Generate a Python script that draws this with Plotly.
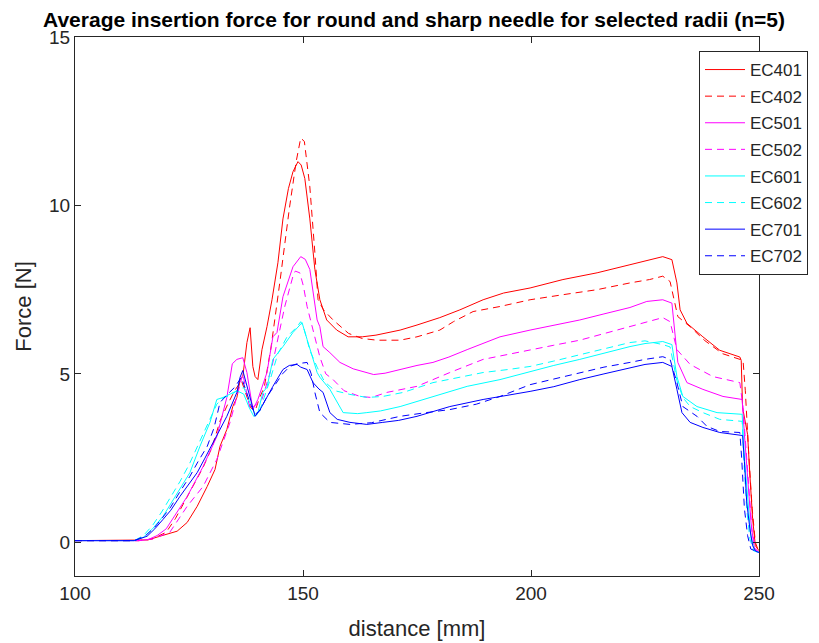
import plotly.graph_objects as go

# ---------------- data ----------------
ec401_x = [100, 114, 116, 118.6, 120.5, 122.4, 124.6, 126.8, 129, 130.7, 131.8, 133.3, 134.6, 135.5, 136.2,
           136.8, 137.7, 138.4, 139.0, 139.5, 140.1, 141.0, 142.1, 143.2, 144.5, 145.6, 146.8, 147.8, 148.9,
           149.6, 150.4, 151.5, 152.6, 153.7, 155.2, 157.4, 159.9, 163, 166, 168, 171.3, 175, 180, 184.4,
           189.5, 194, 199.8, 207, 214.5, 221.7, 226, 228.9, 230.9, 232.0, 232.7, 234.2, 237.7, 241.4,
           245.8, 246.1, 246.4, 247.5, 248.0, 248.6, 249.2, 250]
ec401_y = [0.05, 0.05, 0.07, 0.18, 0.25, 0.33, 0.59, 1.07, 1.66, 2.16, 2.85, 3.35, 4.03, 4.3, 4.83,
           4.92, 5.93, 6.37, 5.22, 4.92, 4.83, 5.72, 6.4, 7.2, 8.3, 9.6, 10.5, 11.0, 11.3,
           11.2, 10.8, 9.6, 8.1, 7.2, 6.6, 6.3, 6.1, 6.1, 6.15, 6.2, 6.3, 6.45, 6.67, 6.9,
           7.2, 7.4, 7.55, 7.8, 8.0, 8.24, 8.38, 8.48, 8.39, 7.7, 6.9, 6.5, 6.1, 5.7,
           5.5, 5.4, 4.0, 3.2, 2.0, 0.7, -0.1, -0.25]

ec402_x = [100, 114, 117, 120, 122, 124, 126, 128, 130, 131.8, 133.5, 135, 136.5, 137.5, 138.5, 139.5,
           140.5, 141.5, 143, 145, 147, 148.5, 149.5, 150.3, 151.5, 152.6, 153.3, 154.5, 156.6, 160, 163,
           166.2, 171.3, 175, 180, 183, 187.3, 193.2, 199.8, 207, 214.5, 221.7, 226, 228.9, 230.5, 232.2,
           234.9, 238, 242, 246.5, 247, 247.8, 248.5, 249.2, 250]
ec402_y = [0.05, 0.05, 0.1, 0.3, 0.7, 1.2, 1.7, 2.2, 2.8, 3.6, 4.1, 4.5, 4.8, 4.4, 4.0, 3.9,
           4.3, 4.6, 5.8, 7.8, 9.9, 11.3, 12.0, 11.9, 10.55, 8.6, 7.2, 6.9, 6.6, 6.2, 6.05,
           6.0, 6.0, 6.1, 6.3, 6.55, 6.85, 7.0, 7.2, 7.35, 7.5, 7.7, 7.8, 7.9, 7.74, 6.7,
           6.4, 6.0, 5.6, 5.4, 4.5, 2.5, 1.0, 0.0, -0.3]

ec501_x = [100, 114, 116, 118, 120, 122, 124.6, 128.1, 131.1, 133.3, 134.5, 135.5, 136.8, 137.7, 139.0,
           140.1, 142.1, 143.4, 144.3, 145.6, 147.8, 149.5, 150.5, 151.5, 153.1, 153.7, 154.4, 155.9,
           158.1, 161, 164, 165.5, 168, 171.3, 175, 178.5, 182, 186, 189.5, 193.2, 199.8, 205, 210.7,
           216, 221.7, 225.4, 228.9, 230.9, 231.6, 232.2, 234.2, 237.7, 242.1, 246.3, 246.8, 247.5,
           248.3, 249, 250]
ec501_y = [0.05, 0.05, 0.08, 0.2, 0.4, 0.8, 1.36, 2.25, 3.14, 4.3, 5.3, 5.43, 5.48, 5.04, 3.94,
           4.24, 5.04, 6.1, 6.23, 7.29, 8.18, 8.48, 8.4, 8.1, 6.6, 6.4, 5.81, 5.63,
           5.34, 5.15, 5.04, 4.98, 5.02, 5.13, 5.25, 5.34, 5.5, 5.72, 5.9, 6.1, 6.3, 6.45, 6.6,
           6.78, 6.97, 7.15, 7.2, 7.1, 6.2, 5.34, 4.74, 4.54, 4.33, 4.24, 3.2, 2.0,
           0.5, -0.2, -0.3]

ec502_x = [100, 114, 117, 120.8, 124.6, 128.1, 131.1, 134, 135.5, 136.8, 138.4, 141, 143.2, 144.5, 146,
           147.8, 148.3, 149.3, 150.1, 150.9, 152.2, 153.7, 155, 156.6, 159, 162.5, 165, 168.4, 175,
           182.2, 189.5, 199.8, 205, 210.7, 216, 221.7, 228.9, 230.5, 232, 234.9, 239.9, 245.8, 246.5,
           247.3, 248.5, 249.3, 250]
ec502_y = [0.05, 0.05, 0.1, 0.3, 1.07, 1.66, 2.46, 3.56, 4.33, 5.0, 3.94, 4.24, 5.22, 6.02, 7.0,
           7.9, 8.05, 8.0, 7.6, 7.0, 6.3, 5.5, 5.0, 4.83, 4.5, 4.33, 4.3, 4.45, 4.63,
           5.04, 5.43, 5.72, 5.85, 6.0, 6.2, 6.4, 6.67, 6.55, 5.72, 5.28, 4.92, 4.74, 4.0,
           2.5, 0.3, -0.2, -0.3]

ec601_x = [100, 113, 115, 117, 119.3, 121, 123, 125.2, 127.4, 129.6, 131.1, 132.5, 134, 135.5, 137,
           138.2, 139.2, 140, 141.2, 142.1, 143.4, 145.6, 147.8, 149.8, 150.9, 152, 153.1, 153.7, 155.9,
           158.8, 162, 164, 167, 171.3, 178.5, 186, 193.2, 199.8, 205, 210.7, 216, 221.7, 225, 228.9,
           230.9, 232, 233.3, 236.4, 240.8, 246.3, 246.8, 247.5, 248.2, 249, 250]
ec601_y = [0.05, 0.05, 0.15, 0.4, 0.77, 1.15, 1.57, 2.07, 2.85, 3.56, 4.24, 4.3, 4.4, 4.5, 4.4,
           4.0, 3.74, 3.8, 4.45, 4.6, 5.43, 5.81, 6.23, 6.52, 6.02, 5.5, 5.04, 4.9, 4.54,
           3.85, 3.82, 3.85, 3.9, 4.03, 4.33, 4.63, 4.83, 5.07, 5.25, 5.43, 5.62, 5.81, 5.9, 5.96,
           5.87, 4.92, 4.33, 4.03, 3.85, 3.8, 2.5, 1.2, 0.2, -0.25, -0.3]

ec602_x = [100, 113, 115, 117, 119, 121, 123, 125, 127, 129, 131.1, 132.5, 134, 135.5, 137, 138.5,
           139.5, 140.5, 142.8, 144.5, 146.5, 148.7, 149.5, 150.3, 151.5, 153.1, 154.4, 155.3, 157,
           160.3, 164, 167.5, 172, 178.5, 184, 189.5, 195, 199.8, 205, 210.7, 216, 221.7, 225, 228.9,
           230.5, 232, 233.3, 234.9, 237.7, 241.4, 246.3, 246.6, 247.3, 248, 248.8, 250]
ec602_y = [0.05, 0.05, 0.2, 0.5, 0.9, 1.35, 1.8, 2.3, 2.9, 3.5, 4.1, 4.3, 4.35, 4.5, 4.6, 4.1,
           3.8, 3.9, 4.83, 5.6, 6.1, 6.4, 6.55, 6.3, 5.7, 5.2, 4.85, 4.7, 4.5,
           4.39, 4.3, 4.33, 4.45, 4.74, 4.9, 5.04, 5.13, 5.22, 5.38, 5.57, 5.75, 5.93, 5.98, 5.87,
           5.8, 4.8, 4.3, 4.03, 3.85, 3.65, 3.59, 2.6, 1.0, 0.1, -0.25, -0.3]

ec701_x = [100, 113, 115.8, 117.5, 119.3, 121, 123, 125, 126.8, 128.5, 130.3, 131.8, 133.3, 135.5,
           136.2, 136.8, 137.5, 138.4, 139.5, 140.6, 142.1, 143.4, 145.6, 147, 148.7, 149.5, 150.9,
           152.2, 153.5, 154.4, 155.9, 157.5, 160.3, 164, 167.5, 171, 175, 182.2, 189.5, 195, 199.8,
           205, 210.7, 216, 221.7, 225, 228.9, 230.9, 232, 233.1, 234.9, 237.7, 241.4, 245.8, 246.4,
           246.8, 247.3, 248, 248.6, 249.3, 250]
ec701_y = [0.05, 0.05, 0.18, 0.4, 0.68, 0.95, 1.36, 1.75, 2.07, 2.5, 2.96, 3.35, 3.74, 4.45,
           4.9, 5.1, 4.74, 4.24, 3.74, 3.94, 4.33, 4.63, 5.13, 5.25, 5.28, 5.2, 5.13,
           4.74, 4.55, 4.45, 3.85, 3.65, 3.56, 3.5, 3.56, 3.62, 3.74, 4.03, 4.24, 4.36, 4.48,
           4.62, 4.83, 5.0, 5.19, 5.28, 5.34, 5.22, 4.54, 3.85, 3.56, 3.41, 3.26, 3.2, 3.17,
           2.4, 1.2, 0.4, -0.1, -0.27, -0.3]

ec702_x = [100, 113, 115.5, 117.5, 119.3, 121, 123, 125.2, 127, 129, 130.5, 131.8, 133.5, 135, 136.5,
           137.5, 138.5, 139.5, 140.5, 142, 143.5, 145.5, 147.1, 148.7, 150.9, 151.8, 152.6, 153.7,
           155.9, 160.3, 165, 171.3, 177, 182.2, 188, 193.2, 199.8, 205, 210.7, 216, 221.7, 225, 228.9,
           230.5, 232, 233.3, 236.4, 238.6, 241.4, 245.8, 246.2, 246.8, 247.5, 248.2, 250]
ec702_y = [0.05, 0.05, 0.2, 0.45, 0.75, 1.05, 1.5, 1.96, 2.4, 2.85, 3.4, 4.15, 4.4, 4.6, 4.9,
           4.5, 4.1, 3.8, 3.9, 4.3, 4.6, 5.0, 5.22, 5.3, 5.34, 5.0, 4.45, 3.85,
           3.56, 3.5, 3.55, 3.74, 3.85, 3.94, 4.1, 4.33, 4.68, 4.85, 5.04, 5.2, 5.34, 5.43, 5.51,
           5.43, 4.74, 4.03, 3.74, 3.44, 3.29, 3.26, 2.5, 1.0, 0.2, -0.2, -0.3]

series_names = ["EC401", "EC402", "EC501", "EC502", "EC601", "EC602", "EC701", "EC702"]
series_x = [ec401_x, ec402_x, ec501_x, ec502_x, ec601_x, ec602_x, ec701_x, ec702_x]
series_y = [ec401_y, ec402_y, ec501_y, ec502_y, ec601_y, ec602_y, ec701_y, ec702_y]
series_colors = ["#FF0000", "#FF0000", "#FF00FF", "#FF00FF", "#00FFFF", "#00FFFF", "#0000FF", "#0000FF"]
series_dash = ["solid", "7px,5px", "solid", "7px,5px", "solid", "7px,5px", "solid", "7px,5px"]

x_ticks = [100, 150, 200, 250]
y_ticks = [0, 5, 10, 15]

title_text = "Average insertion force for round and sharp needle for selected radii (n=5)"
x_label = "distance [mm]"
y_label = "Force [N]"

# ---------------- figure ----------------
# the page body has an 8px margin, so the figure is sized/offset to compensate
FONT = "Liberation Sans, Arial, sans-serif"
AX = "#262626"
W, H = 811, 635

fig = go.Figure()
for i, (n, xs, ys, c, d) in enumerate(zip(series_names, series_x, series_y, series_colors, series_dash)):
    fig.add_trace(go.Scatter(x=xs, y=ys, mode="lines", name=n, legendgroup=n,
                             line=dict(color=c, width=1, dash=d)))

fig.update_layout(
    width=W, height=H,
    margin=dict(l=67, r=60, t=29, b=67, autoexpand=False),
    paper_bgcolor="white", plot_bgcolor="white",
    font=dict(family=FONT, color=AX),
    title=dict(text="<b>" + title_text + "</b>", x=(410 - 8) / W, xref="paper", xanchor="center",
               y=1 - (20 - 8) / H, yanchor="middle", font=dict(size=21, color="#000000", family=FONT)),
    showlegend=True,
    legend=dict(x=(699 - 75) / 684, y=1 - (51 - 37) / 539, xanchor="left", yanchor="top",
                bgcolor="white", bordercolor=AX, borderwidth=1,
                font=dict(size=17, color=AX, family=FONT),
                tracegroupgap=1.5, traceorder="grouped", itemwidth=40),
)
fig.update_xaxes(range=[100, 250], tickvals=x_ticks, ticktext=[str(v) for v in x_ticks],
                 showgrid=False, zeroline=False, showline=True, mirror="ticks", linecolor=AX,
                 linewidth=1, ticks="inside", ticklen=6, tickcolor=AX, automargin=False,
                 tickfont=dict(size=19, color=AX),
                 title=dict(text=x_label, font=dict(size=22, color=AX), standoff=17))
fig.update_yaxes(range=[-1, 15], tickvals=y_ticks, ticktext=[str(v) for v in y_ticks],
                 showgrid=False, zeroline=False, showline=True, mirror="ticks", linecolor=AX,
                 linewidth=1, ticks="inside", ticklen=6, tickcolor=AX, automargin=False,
                 tickfont=dict(size=19, color=AX),
                 title=dict(text=y_label, font=dict(size=22, color=AX), standoff=11))

fig.write_html("out.html")
